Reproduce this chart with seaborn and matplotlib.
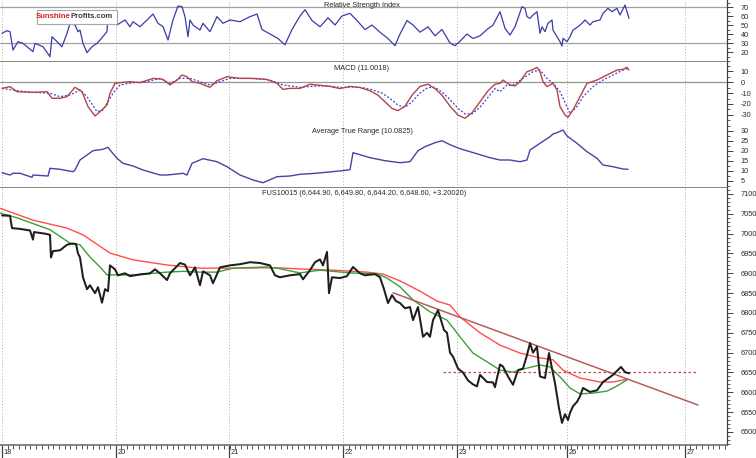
import numpy as np
import pandas as pd
import matplotlib
matplotlib.use("Agg")
import matplotlib.pyplot as plt
from matplotlib.ticker import MultipleLocator, FixedLocator
from matplotlib.patches import Rectangle
from matplotlib.transforms import blended_transform_factory
import seaborn as sns

sns.set_style("white")
plt.rcParams['font.family'] = ['Liberation Sans', 'DejaVu Sans']
plt.rcParams['axes.unicode_minus'] = False

# ---------------- data (bar index, value) ----------------
day_ticks = [0, 114, 227, 341, 455, 565, 683]
day_labels = ["18", "20", "21", "22", "23", "26", "27"]

price_bar = [0, 8, 10, 18, 28, 31, 32, 43, 48, 49, 51, 58, 65, 70, 74, 76, 78, 81, 85, 88, 93, 96, 100, 103, 106,
             108, 113, 116, 123, 128, 138, 148, 153, 158, 165, 168, 178, 183, 188, 193, 198, 201, 208, 211, 218,
             228, 238, 248, 258, 268, 273, 278, 288, 298, 301, 308, 313, 318, 321, 325, 327, 330, 338, 345, 351,
             358, 363, 373, 378, 382, 386, 390, 394, 398, 403, 408, 411, 416, 421, 425, 428, 431, 436, 442, 445,
             448, 451, 456, 461, 466, 471, 475, 478, 485, 491, 493, 498, 501, 506, 511, 516, 521, 525, 528, 531,
             535, 538, 543, 547, 550, 553, 557, 560, 563, 566, 568, 571, 575, 578, 581, 588, 595, 601, 606, 611,
             619, 623, 627]
price_val = [7046, 7045, 7014, 7012, 7008, 6985, 7004, 7000, 6997, 6940, 6956, 6958, 6972, 6975, 6974, 6950, 6940,
             6890, 6860, 6870, 6850, 6865, 6826, 6860, 6855, 6920, 6910, 6895, 6900, 6893, 6897, 6900, 6910, 6900,
             6883, 6900, 6926, 6922, 6895, 6915, 6870, 6905, 6895, 6875, 6915, 6920, 6923, 6928, 6926, 6920, 6895,
             6890, 6895, 6898, 6885, 6908, 6928, 6935, 6920, 6954, 6850, 6890, 6888, 6893, 6916, 6900, 6895, 6898,
             6890, 6860, 6825, 6845, 6830, 6825, 6812, 6815, 6782, 6815, 6740, 6750, 6740, 6782, 6807, 6757, 6750,
             6700, 6690, 6660, 6650, 6630, 6620, 6615, 6644, 6626, 6625, 6613, 6670, 6665, 6640, 6619, 6656, 6660,
             6694, 6724, 6700, 6715, 6640, 6636, 6699, 6660, 6623, 6560, 6523, 6545, 6530, 6548, 6565, 6576, 6590,
             6611, 6601, 6605, 6626, 6635, 6644, 6664, 6651, 6648]

ma_red_bar = [-2, 31, 65, 81, 108, 131, 165, 198, 231, 265, 275, 298, 331, 365, 381, 398, 418, 435, 448, 458, 478,
              498, 518, 538, 551, 561, 578, 598, 611, 625]
ma_red_val = [7064, 7034, 7014, 6997, 6951, 6934, 6921, 6913, 6913, 6914, 6914, 6911, 6908, 6903, 6898, 6881, 6855,
              6830, 6820, 6790, 6750, 6719, 6699, 6687, 6682, 6656, 6636, 6626, 6626, 6633]

ma_green_bar = [-2, 15, 48, 68, 78, 88, 98, 105, 115, 131, 165, 181, 198, 215, 231, 265, 275, 298, 318, 331, 348,
                375, 385, 398, 411, 428, 445, 458, 471, 485, 498, 511, 525, 538, 548, 558, 568, 578, 591, 605, 615,
                626]
ma_green_val = [7052, 7040, 7010, 6976, 6972, 6941, 6916, 6896, 6896, 6896, 6903, 6905, 6903, 6903, 6913, 6916, 6913,
                6901, 6908, 6905, 6901, 6899, 6888, 6866, 6833, 6803, 6782, 6740, 6699, 6677, 6656, 6651, 6661, 6669,
                6664, 6639, 6611, 6596, 6598, 6603, 6616, 6633]

trend_bar = [391, 696]
trend_val = [6851, 6568]
level_bar = [441, 695]
level_val = [6650, 6650]

rsi_bar = [0, 5, 8, 11, 16, 21, 31, 33, 41, 48, 50, 55, 60, 65, 68, 73, 76, 78, 81, 85, 90, 95, 98, 105, 106,
           115, 123, 128, 131, 138, 145, 151, 156, 161, 166, 171, 176, 180, 183, 186, 188, 191, 198, 201, 208,
           215, 218, 221, 228, 238, 248, 255,
           260, 268, 276, 283, 290, 298, 303, 310, 318, 326, 333, 340, 348, 355, 363, 370, 378, 386, 393, 398,
           405, 411, 418, 426, 433, 440, 448, 453, 458, 465, 471, 478, 485, 491,
           498, 503, 508, 513, 516, 520, 523, 525, 528, 531, 535, 538, 540, 543, 546, 550, 551, 555, 558, 560,
           561, 565, 568, 571, 576, 580, 583, 588, 591, 598, 601, 606, 610, 615, 618, 623, 627]
rsi_val = [40.8, 43.7, 42.6, 22.2, 31.5, 29.6, 20.4, 29.6, 25.9, 14.8, 37.0, 31.5, 25.9, 40.8, 51.9, 50.0, 42.6,
           44.4, 29.6, 19.3, 25.9, 29.6, 33.3, 42.6, 63.0, 50.0, 55.6, 48.1, 53.7, 48.1, 55.6, 62.2, 51.9, 48.1,
           33.3, 55.6, 71.1, 70.4, 59.3, 37.0, 55.6, 50.0, 44.4, 51.9, 42.6, 59.3, 55.6, 51.9, 55.6, 53.7, 59.3,
           62.2,
           45, 40, 35, 28, 45, 60, 67, 55, 48, 58, 50, 60, 63, 55, 45, 50, 42, 35, 27, 40,
           55, 50, 42, 48, 38, 45, 30, 27, 32, 40, 35, 38, 45, 50,
           64.8, 46.3, 38.9, 48.1, 57.4, 70.4, 68.5, 59.3, 57.4, 61.1, 64.8, 40.8, 48.1, 42.6, 51.9, 55.6, 44.4,
           37.0, 31.5, 26.7, 35.2, 31.5, 37.0, 44.4, 48.1, 51.9, 55.6, 50.0, 53.7, 55.6, 63.0, 68.5, 64.8, 68.5,
           61.1, 72.2, 57.4]

macd_bar = [0, 8, 15, 31, 45, 50, 58, 65, 73, 80, 86, 93, 98, 105, 108, 113, 118, 128, 138, 151, 161, 168, 175,
            180, 185, 190, 198, 208, 215, 225, 238, 251, 265, 275, 281, 288, 298,
            308, 318, 328, 338, 348, 358, 368, 376, 383, 390, 396, 403, 410, 418, 426, 433, 440, 448, 456, 463,
            470, 478, 486, 493,
            498, 501, 508, 513, 518, 525, 530, 535, 538, 541, 545, 551, 555, 558, 563, 566, 571, 578, 585, 595,
            605, 615, 621, 625, 627]
macd_val = [-5.8, -4.2, -8.8, -9.4, -8.8, -14.8, -14.8, -13.3, -4.8, -8.8, -22.4, -30.9, -27.0, -20.9, -10.3,
            -1.2, -0.6, 0.3, -0.6, 3.3, 2.4, -2.7, 1.8, 6.4, 4.8, 0.3, -1.2, -4.8, 1.2, 4.8, 3.3, 3.3, 2.4, -1.2,
            -6.7, -5.8, -5.8,
            -2, -3, -4, -6, -4, -5, -8, -12, -18, -24, -26, -22, -12, -4, -2, -6, -12, -22, -30, -33,
            -28, -18, -8, -2,
            -1.2, 1.8, -2.7, -3.6, 0.3, 9.4, 10.9, 13.3, 9.4, 0.3, -4.2, -1.2, -7.3, -22.4, -30.0, -32.1, -25.5,
            -13.3, -1.2, 1.8, 6.4, 10.9, 11.5, 13.3, 10.9]

signal_bar = [0, 15, 31, 48, 58, 68, 78, 85, 95, 101, 111, 118, 131, 145, 158, 168, 178, 188, 198, 208, 218, 228,
              248, 268, 281, 298,
              308, 320, 330, 340, 350, 360, 370, 380, 388, 396, 403, 410, 418, 426, 433, 440, 448, 456, 463, 470,
              478, 486, 493,
              498, 505, 511, 521, 531, 538, 545, 551, 558, 565, 568, 575, 581, 591, 601, 611, 621, 626]
signal_val = [-5.8, -7.9, -9.4, -10.3, -13.3, -11.8, -7.3, -13.3, -27.0, -25.5, -10.3, -2.7, -0.6, 0.3, 3.3, -1.2,
              3.3, 3.3, 0.3, -2.7, 0.3, 3.3, 3.3, 1.8, -2.7, -4.8,
              -4, -3.5, -4, -5, -4.5, -5, -7, -10, -15, -21, -23, -18, -10, -5, -5, -9, -16, -24, -29, -29,
              -23, -14, -6,
              -8.8, -2.7, -2.7, 3.3, 9.4, 10.9, 3.3, -1.2, -8.8, -22.4, -28.5, -22.4, -13.3, -4.2, 1.8, 6.4, 10.9,
              12.4]

atr_bar = [0, 8, 11, 18, 30, 31, 46, 48, 58, 71, 73, 78, 91, 101, 106, 108, 115, 121, 131, 141, 158, 165, 181,
           185, 190, 201, 215, 225, 238, 251, 261, 275, 288, 298,
           308, 320, 330, 340, 348, 351, 358, 368, 383, 398, 408, 416, 423, 433, 440, 448, 458, 468, 478, 488,
           498, 508, 518, 525, 528, 538, 548, 551, 555, 561, 565, 575, 585, 595, 601, 611, 621, 626]
atr_val = [9.0, 7.85, 8.7, 8.7, 6.7, 7.85, 7.35, 11.2, 10.7, 9.5, 10.35, 15.35, 20.0, 20.7, 21.7, 20.35, 16.2,
           13.7, 12.35, 10.35, 7.85, 7.85, 8.7, 7.85, 13.7, 16.0, 14.5, 12.0, 7.85, 5.35, 4.0, 7.0, 7.35, 8.2,
           8.5, 9, 9.5, 10, 10.5, 19, 18, 16.5, 15, 14, 14.5, 20, 22, 24, 25, 23, 21, 19.5, 18, 16.5,
           15.35, 15.35, 14.5, 15.35, 20.35, 23.7, 27.0, 28.35, 29.0, 30.35, 27.35, 23.7, 19.5, 16.2, 12.85,
           12.0, 10.85, 10.7]

rsi_title = "Relative Strength Index"
macd_title = "MACD (11.0018)"
atr_title = "Average True Range (10.0825)"
price_title = "FUS10015 (6,644.90, 6,649.80, 6,644.20, 6,648.60, +3.20020)"

# ---------------- figure ----------------
W, H = 756, 458
fig = plt.figure(figsize=(W / 100, H / 100), dpi=100)
fig.patch.set_facecolor("white")


def ax_box(x0, y0, x1, y1):
    return fig.add_axes([x0 / W, 1 - y1 / H, (x1 - x0) / W, (y1 - y0) / H])


XR = 727
ax_rsi = ax_box(0, 0, XR, 62)
ax_macd = ax_box(0, 62, XR, 125)
ax_atr = ax_box(0, 125, XR, 188)
ax_pr = ax_box(0, 188, XR, 445)
axes = [ax_rsi, ax_macd, ax_atr, ax_pr]

LAB = 5.3
TXT = '#2a2a2a'
for ax in axes:
    ax.set_facecolor("white")
    ax.set_xlim(-2, XR - 2)
    for s in ax.spines.values():
        s.set_visible(False)
    ax.spines['right'].set_visible(True)
    ax.spines['right'].set_color('#404040')
    ax.spines['right'].set_linewidth(0.9)
    ax.yaxis.tick_right()
    ax.tick_params(axis='y', which='major', direction='out', length=4, width=0.7, color='#404040',
                   labelsize=LAB, pad=6, labelcolor=TXT)
    ax.tick_params(axis='y', which='minor', direction='out', length=2, width=0.6, color='#404040')
    ax.set_xlabel("")
    ax.set_ylabel("")
    for d in day_ticks:
        ax.axvline(d, color='#b8b8b8', lw=0.7, ls=(0, (1.2, 2.0)), zorder=0)

for ax in [ax_rsi, ax_macd, ax_atr]:
    ax.tick_params(axis='x', which='both', bottom=False, top=False, labelbottom=False)

for ax in [ax_rsi, ax_atr, ax_pr]:
    ax.spines['bottom'].set_visible(True)
    ax.spines['bottom'].set_color('#707070')
    ax.spines['bottom'].set_linewidth(1.2)

# RSI
ax_rsi.set_ylim(8.9, 77.8)
ax_rsi.axhline(70, color='#a0a0a0', lw=0.9, zorder=1)
ax_rsi.axhline(30, color='#a0a0a0', lw=0.9, zorder=1)
sns.lineplot(x=rsi_bar, y=rsi_val, ax=ax_rsi, color='#3b3ba8', lw=0.9, estimator=None, sort=False, legend=False)
ax_rsi.yaxis.set_major_locator(FixedLocator([20, 30, 40, 50, 60, 70]))
ax_rsi.yaxis.set_minor_locator(MultipleLocator(5))

# MACD
ax_macd.set_ylim(-39.1, 18.2)
ax_macd.axhline(0, color='#959595', lw=0.9, zorder=1)
sns.lineplot(x=signal_bar, y=signal_val, ax=ax_macd, color='#3a3ae0', lw=0.9, ls=(0, (1.5, 1.5)),
             estimator=None, sort=False, legend=False)
sns.lineplot(x=macd_bar, y=macd_val, ax=ax_macd, color='#b54444', lw=1.0, estimator=None, sort=False, legend=False)
ax_macd.yaxis.set_major_locator(FixedLocator([10, 0, -10, -20, -30]))
ax_macd.yaxis.set_minor_locator(MultipleLocator(5))

# ATR
ax_atr.set_ylim(1.35, 32.85)
sns.lineplot(x=atr_bar, y=atr_val, ax=ax_atr, color='#4444a6', lw=1.0, estimator=None, sort=False, legend=False)
ax_atr.yaxis.set_major_locator(FixedLocator([5, 10, 15, 20, 25, 30]))
ax_atr.yaxis.set_minor_locator(MultipleLocator(2.5))

# Price
ax_pr.set_ylim(6467.2, 7115.1)
sns.lineplot(x=ma_red_bar, y=ma_red_val, ax=ax_pr, color='#ff4d4d', lw=1.0, estimator=None, sort=False, legend=False)
sns.lineplot(x=ma_green_bar, y=ma_green_val, ax=ax_pr, color='#3c9e3c', lw=1.0, estimator=None, sort=False,
             legend=False)
sns.lineplot(x=trend_bar, y=trend_val, ax=ax_pr, color='#b85c5c', lw=1.1, estimator=None, sort=False, legend=False)
sns.lineplot(x=level_bar, y=level_val, ax=ax_pr, color='#c04848', lw=0.9, ls=(0, (2, 2)), estimator=None,
             sort=False, legend=False)
sns.lineplot(x=price_bar, y=price_val, ax=ax_pr, color='#1e1e1e', lw=1.45, estimator=None, sort=False, legend=False)
ax_pr.yaxis.set_major_locator(MultipleLocator(50))
ax_pr.yaxis.set_minor_locator(MultipleLocator(10))
ax_pr.set_yticks(list(range(6500, 7101, 50)))
ax_pr.set_ylim(6467.2, 7115.1)

ax_pr.xaxis.set_major_locator(FixedLocator(day_ticks))
ax_pr.xaxis.set_minor_locator(MultipleLocator(113.8 / 20))
ax_pr.tick_params(axis='x', which='major', direction='out', length=11, width=0.9, color='#404040',
                  labelbottom=False, bottom=True)
ax_pr.tick_params(axis='x', which='minor', direction='out', length=3, width=0.7, color='#505050', bottom=True)
ax_pr.set_xlim(-2, XR - 2)

trans = blended_transform_factory(ax_pr.transData, fig.transFigure)
for d, lab in zip(day_ticks, day_labels):
    ax_pr.text(d + 1.2, 1 - 452 / H, lab, transform=trans, ha='left', va='center', fontsize=LAB, color=TXT)

# titles
fig.text(362 / W, 1 - 5.5 / H, rsi_title, ha='center', va='center', fontsize=LAB, color=TXT)
fig.text(362 / W, 1 - 68 / H, macd_title, ha='center', va='center', fontsize=LAB, color=TXT)
fig.text(362 / W, 1 - 131.5 / H, atr_title, ha='center', va='center', fontsize=LAB, color=TXT)
fig.text(262 / W, 1 - 193.5 / H, price_title, ha='left', va='center', fontsize=LAB, color=TXT)

# logo
fig.add_artist(Rectangle((37 / W, 1 - 23.5 / H), 80 / W, 13.5 / H, transform=fig.transFigure,
                         facecolor='white', edgecolor='#a8a8a8', lw=0.8, zorder=5))
fig.text(70.5 / W, 1 - 16.8 / H, "Sunshine", color='#d8202c', fontsize=5.6, fontweight='bold',
         ha='right', va='center', zorder=6)
fig.text(70.5 / W, 1 - 16.8 / H, "Profits.com", color='#3a3a3a', fontsize=5.6, fontweight='bold',
         ha='left', va='center', zorder=6)

fig.savefig("out.png", dpi=100, facecolor="white")
